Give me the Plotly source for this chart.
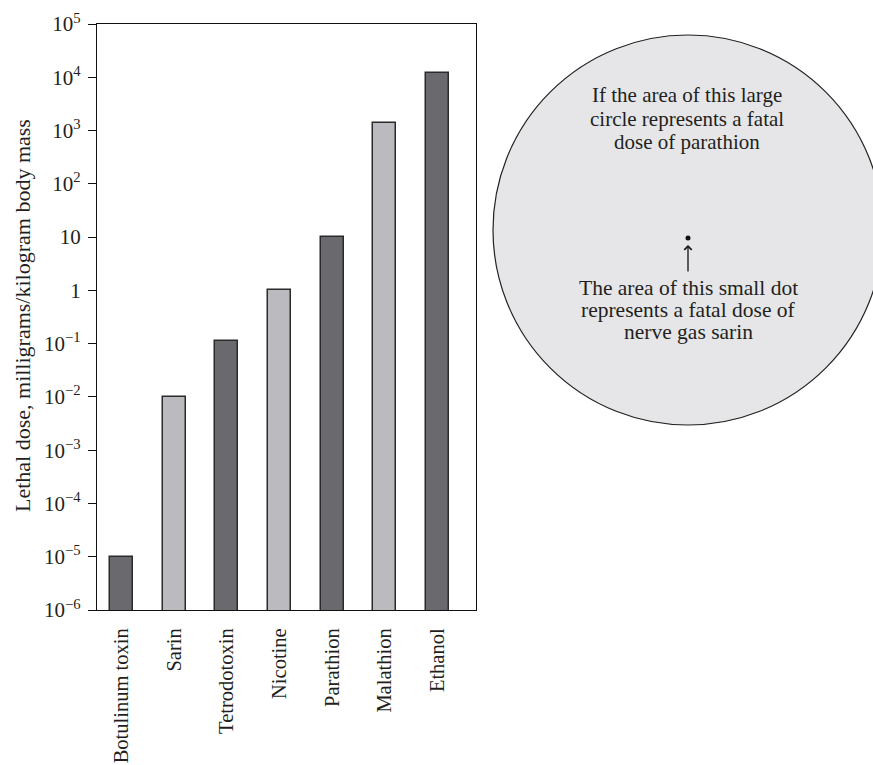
import plotly.graph_objects as go

# Lethal doses (mg per kg body mass)
substances = ["Botulinum toxin", "Sarin", "Tetrodotoxin", "Nicotine",
              "Parathion", "Malathion", "Ethanol"]
lethal_dose = [1e-5, 1e-2, 0.11, 1, 10, 1400, 12000]
bar_colors = ["#69696e", "#bbbbbf", "#69696e", "#bbbbbf",
              "#69696e", "#bbbbbf", "#69696e"]

tick_vals = [1e5, 1e4, 1e3, 1e2, 10, 1, 1e-1, 1e-2, 1e-3, 1e-4, 1e-5, 1e-6]
tick_text = ["10<sup>5</sup>", "10<sup>4</sup>", "10<sup>3</sup>", "10<sup>2</sup>",
             "10", "1", "10<sup>\u22121</sup>", "10<sup>\u22122</sup>",
             "10<sup>\u22123</sup>", "10<sup>\u22124</sup>", "10<sup>\u22125</sup>",
             "10<sup>\u22126</sup>"]

upper_note = ["If the area of this large", "circle represents a fatal", "dose of parathion"]
lower_note = ["The area of this small dot", "represents a fatal dose of", "nerve gas sarin"]

W, H = 873, 765
L, R, T, B = 97, 476, 24, 610
FONT = "Liberation Serif, Times New Roman, serif"
INK = "#231f20"


def px(xp):
    return (xp - L) / (R - L)


def py(yp):
    return (B - yp) / (B - T)


fig = go.Figure(go.Bar(
    x=substances, y=lethal_dose, width=0.437,
    marker=dict(color=bar_colors, line=dict(color="#2a2a2a", width=1.5)),
))

fig.update_layout(
    width=W, height=H,
    margin=dict(l=L, r=W - R, t=T, b=H - B, autoexpand=False),
    paper_bgcolor="white", plot_bgcolor="white",
    showlegend=False, bargap=0,
    font=dict(family=FONT, size=21, color=INK),
)

fig.update_xaxes(
    type="category", range=[-0.465, 6.731], automargin=False,
    showline=True, mirror=True, linecolor="#111", linewidth=1.3,
    showgrid=False, ticks="", tickangle=-90, ticklabelstandoff=9,
    tickfont=dict(family=FONT, size=20.5, color=INK),
)
fig.update_yaxes(
    type="log", range=[-6, 5], automargin=False,
    tickvals=tick_vals, ticktext=tick_text,
    showline=True, mirror=True, linecolor="#111", linewidth=1.3,
    showgrid=False, ticks="outside", ticklen=8, tickwidth=1.2, tickcolor="#111",
    ticklabelstandoff=3,
    tickfont=dict(family=FONT, size=21, color=INK),
)

# Y-axis title
fig.add_annotation(
    text="Lethal dose, milligrams/kilogram body mass",
    xref="paper", yref="paper", x=px(22), y=py(316),
    xanchor="center", yanchor="middle", textangle=-90, showarrow=False,
    font=dict(family=FONT, size=22, color=INK),
)

# Large circle: fatal dose of parathion
cx, cy, r = 688, 230, 195
fig.add_shape(
    type="circle", xref="paper", yref="paper",
    x0=px(cx - r), x1=px(cx + r), y0=py(cy + r), y1=py(cy - r),
    fillcolor="#e6e6e8", line=dict(color="#222", width=1.2), layer="below",
)

# Small dot: fatal dose of sarin
dx, dy, dr = 688, 238, 2.5
fig.add_shape(
    type="circle", xref="paper", yref="paper",
    x0=px(dx - dr), x1=px(dx + dr), y0=py(dy + dr), y1=py(dy - dr),
    fillcolor="#111", line=dict(color="#111", width=0),
)

# Arrow pointing at the dot
fig.add_annotation(
    xref="paper", yref="paper", x=px(688), y=py(245), ax=0, ay=28,
    text="", showarrow=True, arrowhead=4, arrowsize=1.1, arrowwidth=1.3,
    arrowcolor="#111",
)

for i, line in enumerate(upper_note):
    fig.add_annotation(
        text=line, xref="paper", yref="paper", x=px(687), y=py(95 + 23.5 * i),
        xanchor="center", yanchor="middle", showarrow=False,
        font=dict(family=FONT, size=21, color=INK),
    )

for i, line in enumerate(lower_note):
    fig.add_annotation(
        text=line, xref="paper", yref="paper", x=px(688), y=py(288 + 22 * i),
        xanchor="center", yanchor="middle", showarrow=False,
        font=dict(family=FONT, size=21.5, color=INK),
    )

fig.write_html("out.html")
